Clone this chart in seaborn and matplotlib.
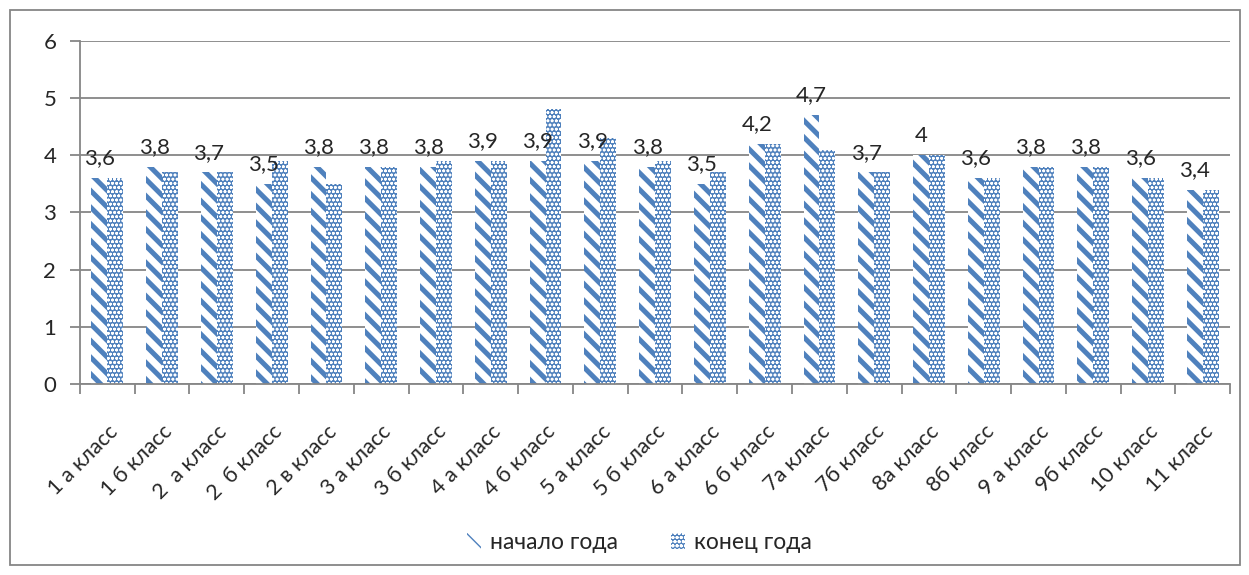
import pandas as pd
import matplotlib.pyplot as plt
import matplotlib.patches as mpatches
import seaborn as sns

# Data
classes = ['1 а класс', '1 б класс', '2  а класс', '2  б класс', '2 в класс', '3 а класс',
           '3 б класс', '4 а класс', '4 б класс', '5 а класс', '5 б класс', '6 а класс',
           '6 б класс', '7а класс', '7б класс', '8а класс', '8б класс', '9 а класс',
           '9б класс', '10 класс', '11 класс']
start_year = [3.6, 3.8, 3.7, 3.5, 3.8, 3.8, 3.8, 3.9, 3.9, 3.9, 3.8, 3.5,
              4.2, 4.7, 3.7, 4.0, 3.6, 3.8, 3.8, 3.6, 3.4]
end_year = [3.6, 3.7, 3.7, 3.9, 3.5, 3.8, 3.9, 3.9, 4.8, 4.3, 3.9, 3.7,
            4.2, 4.1, 3.7, 4.0, 3.6, 3.8, 3.8, 3.6, 3.4]
series_names = ['начало года', 'конец года']

df = pd.DataFrame({'класс': classes * 2,
                   'оценка': start_year + end_year,
                   'серия': [series_names[0]] * len(classes) + [series_names[1]] * len(classes)})

sns.set_theme(style="white")
plt.rcParams['font.family'] = ['Lato', 'Open Sans', 'DejaVu Sans']

blue = '#4F81BD'
grey = '#868686'


def style_stripes(p):
    p.set_linewidth(0)
    p.set_facecolor('white')
    p.set_edgecolor(blue)
    p.set_hatch('\\\\')
    if hasattr(p, 'set_hatch_linewidth'):
        p.set_hatch_linewidth(3.6)


def style_dots(p):
    p.set_linewidth(0)
    p.set_facecolor(blue)
    p.set_edgecolor('white')
    p.set_hatch('oooo')
    if hasattr(p, 'set_hatch_linewidth'):
        p.set_hatch_linewidth(0.8)


fig = plt.figure(figsize=(12.49, 5.75), dpi=100)
ax = fig.add_axes([0.064, 0.332, 0.921, 0.597])

sns.barplot(data=df, x='класс', y='оценка', hue='серия', order=classes,
            hue_order=series_names, width=0.58, gap=0, ax=ax, legend=False)

n = len(classes)
for i, bar in enumerate(ax.patches[:2 * n]):
    if i < n:
        style_stripes(bar)
    else:
        style_dots(bar)

# Value labels above the "начало года" bars
for bar, v in zip(ax.patches[:n], start_year):
    label = f'{v:g}'.replace('.', ',')
    ax.annotate(label, (bar.get_x() + bar.get_width() / 2, v),
                xytext=(0, 7), textcoords='offset points',
                ha='center', va='bottom', fontsize=16)

ax.set_ylim(0, 6)
ax.set_xlim(-0.5, n - 0.5)
ax.set_yticks(range(7))
ax.yaxis.grid(True, color=grey, linewidth=1.3)
ax.set_axisbelow(True)
ax.set_xlabel('')
ax.set_ylabel('')

for s in ['top', 'right']:
    ax.spines[s].set_visible(False)
for s in ['left', 'bottom']:
    ax.spines[s].set_color(grey)
    ax.spines[s].set_linewidth(1.3)

ax.tick_params(axis='y', labelsize=16, length=7, color=grey, width=1.3, left=True, pad=10)
ax.set_xticks([i - 0.5 for i in range(n + 1)], minor=True)
ax.tick_params(axis='x', which='minor', length=7, color=grey, width=1.3, bottom=True)
ax.tick_params(axis='x', which='major', length=0, labelsize=15.5, pad=27, labelrotation=45)
for lbl in ax.get_xticklabels():
    lbl.set_ha('right')
    lbl.set_rotation_mode('anchor')

h1 = mpatches.Patch()
style_stripes(h1)
h2 = mpatches.Patch()
style_dots(h2)
fig.legend([h1, h2], series_names, loc='center', bbox_to_anchor=(0.512, 0.056), ncol=2,
           frameon=False, fontsize=16.5, handlelength=0.6, handleheight=0.7,
           handletextpad=0.4, columnspacing=2.3)

# Outer chart border
fig.patches.append(mpatches.Rectangle((0.008, 0.017), 0.985, 0.966, transform=fig.transFigure,
                                      fill=False, edgecolor=grey, linewidth=1.3))

plt.savefig('out.png', dpi=100)
